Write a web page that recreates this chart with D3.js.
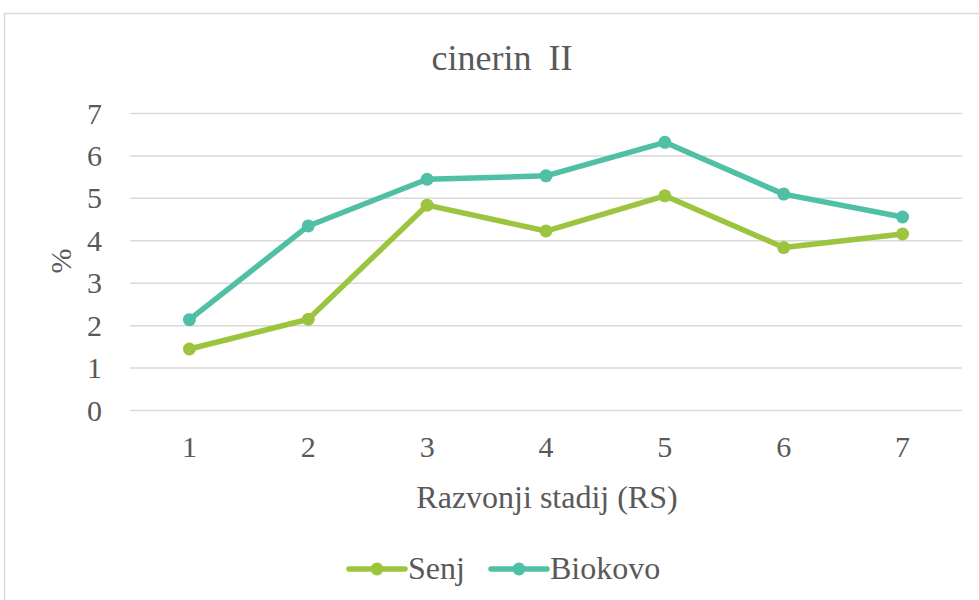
<!DOCTYPE html>
<html>
<head>
<meta charset="utf-8">
<script src="https://cdn.jsdelivr.net/npm/d3@7"></script>
<style>
  body { margin: 0; background: #fff; }
  svg text { font-family: "Liberation Serif", serif; }
</style>
</head>
<body>
<div id="chart"></div>
<script>
// data
var stages = ["1", "2", "3", "4", "5", "6", "7"];
var senj = [1.45, 2.15, 4.84, 4.23, 5.06, 3.84, 4.16];
var biokovo = [2.14, 4.35, 5.45, 5.53, 6.32, 5.10, 4.56];
var yTicks = [0, 1, 2, 3, 4, 5, 6, 7];

var series = [
    {name: "Senj", values: senj, color: "#9dc43f"},
    {name: "Biokovo", values: biokovo, color: "#4fbfa5"}
];

var FONT = "Liberation Serif";
var TEXT_COLOR = "#595959";

var width = 979, height = 600;
var margin = {top: 113.5, right: 17, bottom: 189.5, left: 130};

var svg = d3.select("#chart").append("svg")
    .attr("width", width)
    .attr("height", height)
    .attr("font-family", FONT);

// chart frame
svg.append("rect")
    .attr("x", 4.5).attr("y", 13.5)
    .attr("width", 1000).attr("height", 700)
    .attr("fill", "none")
    .attr("stroke", "#d9d9d9")
    .attr("stroke-width", 1.5);

var x = d3.scaleBand()
    .domain(stages)
    .range([margin.left, width - margin.right]);

var y = d3.scaleLinear()
    .domain([0, 7])
    .range([height - margin.bottom, margin.top]);

// grid lines
svg.append("g")
    .selectAll("line")
    .data(yTicks)
    .enter().append("line")
    .attr("x1", margin.left)
    .attr("x2", width - margin.right)
    .attr("y1", function(d){ return y(d); })
    .attr("y2", function(d){ return y(d); })
    .attr("stroke", "#d9d9d9")
    .attr("stroke-width", 1.5);

// y axis labels
var yAxis = svg.append("g")
    .attr("transform", "translate(102,0)")
    .call(d3.axisLeft(y).tickValues(yTicks).tickFormat(d3.format("d")).tickSize(0).tickPadding(0));
yAxis.select(".domain").remove();
yAxis.attr("font-family", FONT).attr("font-size", 30);
yAxis.selectAll("text")
    .attr("fill", TEXT_COLOR);

// x axis labels
var xAxis = svg.append("g")
    .attr("transform", "translate(0,436)")
    .call(d3.axisBottom(x).tickSize(0).tickPadding(0));
xAxis.select(".domain").remove();
xAxis.attr("font-family", FONT).attr("font-size", 30);
xAxis.selectAll("text")
    .attr("fill", TEXT_COLOR);

// title
svg.append("text")
    .attr("x", 502).attr("y", 70)
    .attr("text-anchor", "middle")
    .attr("font-size", 36)
    .attr("word-spacing", 8)
    .attr("fill", TEXT_COLOR)
    .text("cinerin II");

// axis titles
svg.append("text")
    .attr("x", 547).attr("y", 508)
    .attr("text-anchor", "middle")
    .attr("font-size", 32)
    .attr("fill", TEXT_COLOR)
    .text("Razvonji stadij (RS)");

svg.append("text")
    .attr("transform", "translate(71,261) rotate(-90)")
    .attr("text-anchor", "middle")
    .attr("font-size", 30)
    .attr("fill", TEXT_COLOR)
    .text("%");

// lines and markers
var line = d3.line()
    .x(function(d, i){ return x(stages[i]) + x.bandwidth() / 2; })
    .y(function(d){ return y(d); });

series.forEach(function(s){
    svg.append("path")
        .datum(s.values)
        .attr("d", line)
        .attr("fill", "none")
        .attr("stroke", s.color)
        .attr("stroke-width", 5.5)
        .attr("stroke-linejoin", "round")
        .attr("stroke-linecap", "round");

    svg.append("g")
        .selectAll("circle")
        .data(s.values)
        .enter().append("circle")
        .attr("cx", function(d, i){ return x(stages[i]) + x.bandwidth() / 2; })
        .attr("cy", function(d){ return y(d); })
        .attr("r", 6.5)
        .attr("fill", s.color);
});

// legend
var legendX = [349, 491];
var legend = svg.append("g")
    .selectAll("g")
    .data(series)
    .enter().append("g")
    .attr("transform", function(d, i){ return "translate(" + legendX[i] + ",569)"; });

legend.append("line")
    .attr("x1", 0).attr("x2", 56)
    .attr("stroke", function(d){ return d.color; })
    .attr("stroke-width", 5.5)
    .attr("stroke-linecap", "round");
legend.append("circle")
    .attr("cx", 28).attr("r", 6.5)
    .attr("fill", function(d){ return d.color; });
legend.append("text")
    .attr("x", 59).attr("y", 10)
    .attr("font-size", 32)
    .attr("fill", TEXT_COLOR)
    .text(function(d){ return d.name; });
</script>
</body>
</html>
